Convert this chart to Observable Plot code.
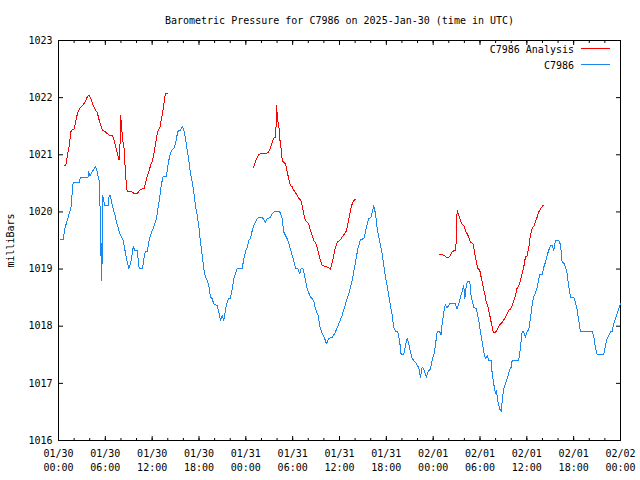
<!DOCTYPE html>
<html>
<head>
<meta charset="utf-8">
<script src="https://cdn.jsdelivr.net/npm/d3@7"></script>
<script src="https://cdn.jsdelivr.net/npm/@observablehq/plot@0.6"></script>
<style>
  body { margin: 0; background: #fff; }
  #wrap { position: relative; width: 640px; height: 480px; font-family: "DejaVu Sans Mono", monospace; }
  .lg-text { position: absolute; left: 0; width: 574px; text-align: right; font-size: 10px; line-height: 12px; color: #000; }
  .lg-line { position: absolute; left: 581px; width: 29px; height: 0; }
</style>
</head>
<body>
<div id="wrap"></div>
<script>
const title = "Barometric Pressure for C7986 on 2025-Jan-30 (time in UTC)";
const yLabel = "milliBars";
const startTime = "2025-01-30T00:00:00Z";
const seriesNames = ["C7986 Analysis", "C7986"];
const seriesColors = ["#ff0000", "#1a86f0"];

const xTickHours = [0, 6, 12, 18, 24, 30, 36, 42, 48, 54, 60, 66, 72];
const xTickLabels = ["01/30\n00:00", "01/30\n06:00", "01/30\n12:00", "01/30\n18:00",
  "01/31\n00:00", "01/31\n06:00", "01/31\n12:00", "01/31\n18:00",
  "02/01\n00:00", "02/01\n06:00", "02/01\n12:00", "02/01\n18:00", "02/02\n00:00"];
const xMinorHours = [0,2,4,6,8,10,12,14,16,18,20,22,24,26,28,30,32,34,36,38,40,42,44,46,48,50,52,54,56,58,60,62,64,66,68,70,72];
const yTicks = [1016, 1017, 1018, 1019, 1020, 1021, 1022, 1023];

// Observed station pressure: [hours since start, mb]
const stationReadings = [
  [0.26,1019.52],[0.60,1019.52],[0.81,1019.71],[1.24,1019.91],[1.58,1020.06],[1.88,1020.52],[2.65,1020.52],[2.82,1020.61],[3.80,1020.61],[3.84,1020.70],
  [4.01,1020.63],[4.23,1020.68],[4.52,1020.75],[4.74,1020.80],[4.87,1020.75],[5.09,1020.61],[5.29,1020.52],[5.32,1020.08],[5.42,1019.24],[5.48,1019.45],
  [5.55,1018.80],[5.61,1019.50],[5.67,1020.29],[5.80,1020.20],[5.93,1020.11],[6.37,1020.11],[6.49,1020.29],[6.66,1020.29],[6.79,1020.18],[7.01,1020.05],
  [7.21,1019.96],[7.43,1019.82],[7.65,1019.73],[7.85,1019.62],[8.07,1019.56],[8.29,1019.50],[8.49,1019.35],[8.71,1019.18],[9.01,1019.01],[9.22,1019.09],
  [9.44,1019.27],[9.57,1019.39],[9.77,1019.33],[10.08,1019.33],[10.34,1019.01],[10.76,1019.01],[10.93,1019.18],[11.14,1019.31],[11.36,1019.31],[11.57,1019.47],
  [11.78,1019.59],[12.13,1019.71],[12.34,1019.79],[12.55,1019.88],[12.77,1020.08],[12.98,1020.26],[13.19,1020.49],[13.41,1020.62],[13.83,1020.62],[14.05,1020.84],
  [14.26,1020.99],[14.48,1021.08],[14.77,1021.11],[15.03,1021.22],[15.28,1021.41],[15.63,1021.43],[15.85,1021.50],[16.05,1021.43],[16.27,1021.28],[16.49,1021.08],
  [16.69,1020.90],[16.91,1020.67],[17.13,1020.52],[17.33,1020.35],[17.55,1020.11],[17.77,1019.94],[17.97,1019.76],[18.19,1019.47],[18.41,1019.24],[18.61,1019.01],
  [18.83,1018.86],[19.05,1018.80],[19.25,1018.71],[19.47,1018.51],[19.69,1018.48],[19.89,1018.39],[20.33,1018.36],[20.53,1018.25],[20.75,1018.10],[20.97,1018.19],
  [21.17,1018.10],[21.30,1018.20],[21.52,1018.39],[21.82,1018.49],[22.03,1018.49],[22.25,1018.65],[22.46,1018.83],[22.89,1019.01],[23.53,1019.01],[23.74,1019.18],
  [23.95,1019.30],[24.17,1019.38],[24.38,1019.50],[24.60,1019.53],[24.81,1019.67],[25.02,1019.76],[25.24,1019.82],[25.45,1019.88],[25.66,1019.91],[26.09,1019.91],
  [26.52,1019.82],[26.73,1019.88],[27.16,1019.91],[27.38,1019.97],[27.58,1020.00],[28.35,1020.00],[28.66,1019.88],[28.86,1019.65],[29.30,1019.53],[29.59,1019.41],
  [29.81,1019.30],[30.14,1019.15],[30.36,1019.01],[30.65,1019.01],[30.91,1018.92],[31.09,1019.01],[31.35,1019.00],[31.55,1018.86],[31.86,1018.65],[32.28,1018.51],
  [32.70,1018.45],[32.92,1018.30],[33.27,1018.19],[33.47,1018.01],[33.69,1017.90],[33.91,1017.84],[34.07,1017.80],[34.33,1017.69],[34.63,1017.79],[35.06,1017.80],
  [35.48,1017.90],[35.91,1018.04],[36.34,1018.19],[36.77,1018.39],[37.19,1018.57],[37.62,1018.80],[38.05,1019.12],[38.34,1019.35],[38.69,1019.52],[39.11,1019.53],
  [39.33,1019.65],[39.54,1019.79],[39.75,1019.88],[40.06,1019.91],[40.39,1020.11],[40.61,1019.97],[40.83,1019.71],[41.03,1019.56],[41.25,1019.41],[41.47,1019.27],
  [41.67,1019.06],[41.89,1018.86],[42.11,1018.71],[42.31,1018.54],[42.53,1018.36],[42.75,1018.19],[42.95,1017.98],[43.17,1017.91],[43.46,1017.91],[43.72,1017.72],
  [43.90,1017.50],[44.23,1017.50],[44.45,1017.66],[44.67,1017.79],[44.87,1017.69],[45.09,1017.55],[45.31,1017.43],[45.73,1017.37],[45.95,1017.31],[46.15,1017.28],
  [46.37,1017.11],[46.59,1017.28],[46.80,1017.25],[47.14,1017.11],[47.36,1017.21],[47.65,1017.25],[47.87,1017.40],[48.17,1017.55],[48.51,1017.90],[48.84,1017.90],
  [49.02,1017.85],[49.15,1018.04],[49.36,1018.25],[49.57,1018.38],[49.79,1018.32],[50.12,1018.39],[50.86,1018.39],[51.07,1018.30],[51.28,1018.39],[51.50,1018.51],
  [51.71,1018.60],[51.92,1018.71],[52.05,1018.48],[52.27,1018.74],[52.43,1018.79],[52.69,1018.79],[52.87,1018.51],[53.20,1018.33],[53.55,1018.30],[53.84,1018.10],
  [54.06,1017.90],[54.28,1017.72],[54.48,1017.55],[54.70,1017.43],[54.92,1017.49],[55.12,1017.40],[55.43,1017.40],[55.56,1017.17],[55.76,1016.99],[55.98,1016.82],
  [56.11,1016.87],[56.27,1016.70],[56.53,1016.55],[56.75,1016.51],[56.84,1016.70],[57.04,1016.90],[57.26,1016.99],[57.55,1017.11],[57.77,1017.23],[57.99,1017.28],
  [58.12,1017.40],[58.96,1017.40],[59.18,1017.63],[59.40,1017.90],[59.60,1017.90],[59.82,1017.81],[60.04,1017.90],[60.25,1017.95],[60.46,1018.13],[60.68,1018.38],
  [60.89,1018.52],[61.10,1018.57],[61.32,1018.68],[61.65,1018.90],[61.96,1018.90],[62.17,1019.03],[62.38,1019.12],[62.60,1019.24],[62.81,1019.33],[63.03,1019.41],
  [63.24,1019.41],[63.45,1019.33],[63.67,1019.50],[64.09,1019.50],[64.31,1019.43],[64.53,1019.11],[64.73,1019.11],[64.95,1019.03],[65.17,1018.92],[65.37,1018.69],
  [65.59,1018.51],[66.01,1018.51],[66.23,1018.42],[66.45,1018.28],[66.65,1018.10],[66.87,1017.91],[68.37,1017.91],[68.58,1017.81],[68.79,1017.63],[69.01,1017.51],
  [69.86,1017.51],[70.07,1017.66],[70.29,1017.78],[70.49,1017.84],[70.71,1017.90],[70.93,1017.90],[71.13,1018.04],[71.35,1018.13],[71.57,1018.22],[71.77,1018.30],
  [71.99,1018.40]
];

// Analysis pressure, three separate runs: [hours since start, mb]
const analysisRun1 = [
  [0.68,1020.82],[0.94,1020.82],[1.15,1020.99],[1.37,1021.16],[1.58,1021.40],[1.79,1021.45],[2.01,1021.45],[2.22,1021.60],[2.43,1021.72],[2.73,1021.82],
  [3.07,1021.86],[3.37,1021.92],[3.72,1022.02],[3.93,1022.04],[4.14,1021.98],[4.45,1021.86],[4.74,1021.78],[4.96,1021.75],[5.16,1021.63],[5.42,1021.51],
  [5.64,1021.43],[5.93,1021.41],[6.24,1021.37],[6.57,1021.34],[6.92,1021.33],[7.14,1021.25],[7.34,1021.13],[7.56,1021.02],[7.72,1020.92],[7.85,1020.92],
  [7.94,1021.69],[8.07,1021.54],[8.20,1021.28],[8.42,1021.10],[8.58,1020.67],[8.71,1020.46],[8.80,1020.36],[9.35,1020.35],[9.77,1020.32],[10.08,1020.32],
  [10.41,1020.38],[10.76,1020.41],[10.98,1020.41],[11.18,1020.52],[11.40,1020.64],[11.62,1020.73],[11.82,1020.82],[12.04,1020.90],[12.26,1021.05],[12.46,1021.22],
  [12.68,1021.40],[12.98,1021.47],[13.19,1021.63],[13.41,1021.80],[13.62,1022.01],[13.75,1022.08],[14.00,1022.08]
];
const analysisRun2 = [
  [24.94,1020.77],[25.11,1020.82],[25.36,1020.93],[25.66,1021.00],[25.88,1021.02],[26.73,1021.03],[26.94,1021.05],[27.16,1021.13],[27.38,1021.22],[27.58,1021.29],
  [27.84,1021.31],[27.93,1021.86],[28.09,1021.60],[28.27,1021.45],[28.35,1021.28],[28.53,1021.10],[28.66,1020.90],[28.86,1020.87],[29.08,1020.84],[29.30,1020.70],
  [29.50,1020.58],[29.72,1020.46],[29.93,1020.44],[30.14,1020.38],[30.36,1020.34],[30.58,1020.29],[30.78,1020.23],[31.00,1020.22],[31.22,1020.11],[31.42,1019.97],
  [31.64,1019.85],[31.86,1019.82],[32.06,1019.79],[32.28,1019.67],[32.50,1019.59],[32.70,1019.50],[32.92,1019.47],[33.14,1019.38],[33.34,1019.27],[33.56,1019.15],
  [33.78,1019.06],[34.20,1019.05],[34.63,1019.02],[34.84,1018.99],[35.06,1019.12],[35.27,1019.24],[35.48,1019.38],[35.70,1019.47],[36.03,1019.50],[36.34,1019.56],
  [36.64,1019.62],[36.89,1019.67],[37.06,1019.79],[37.24,1019.91],[37.41,1020.03],[37.62,1020.14],[37.83,1020.20],[38.05,1020.22]
];
const analysisRun3 = [
  [48.84,1019.26],[49.15,1019.26],[49.36,1019.24],[49.70,1019.21],[50.00,1019.20],[50.21,1019.24],[50.43,1019.30],[50.73,1019.33],[50.90,1019.33],[50.99,1019.67],
  [51.07,1020.03],[51.28,1019.94],[51.50,1019.85],[51.71,1019.78],[51.92,1019.76],[52.14,1019.67],[52.35,1019.62],[52.56,1019.56],[52.78,1019.47],[53.12,1019.44],
  [53.29,1019.30],[53.51,1019.15],[53.71,1019.01],[53.97,1018.98],[54.19,1018.83],[54.40,1018.69],[54.61,1018.57],[54.79,1018.42],[54.99,1018.36],[55.21,1018.22],
  [55.43,1018.07],[55.64,1017.93],[55.76,1017.89],[55.98,1017.89],[56.20,1017.94],[56.40,1018.00],[56.62,1018.04],[56.84,1018.07],[57.04,1018.11],[57.26,1018.16],
  [57.48,1018.22],[57.68,1018.28],[57.90,1018.30],[58.12,1018.36],[58.32,1018.45],[58.54,1018.54],[58.76,1018.67],[58.96,1018.70],[59.18,1018.80],[59.40,1018.92],
  [59.60,1019.03],[59.82,1019.21],[60.04,1019.23],[60.25,1019.38],[60.46,1019.59],[60.68,1019.71],[60.89,1019.75],[61.10,1019.82],[61.32,1019.91],[61.53,1020.00],
  [61.75,1020.05],[62.04,1020.11],[62.17,1020.11]
];

const t0 = Date.parse(startTime);
const toDate = h => new Date(t0 + h * 3600e3);

const stationData = stationReadings.map(([h, v]) => ({t: toDate(h), v}));
const analysisData = [analysisRun1, analysisRun2, analysisRun3]
  .flatMap((run, k) => run.map(([h, v]) => ({t: toDate(h), v, run: k})));

const xTickDates = xTickHours.map(toDate);
const xMinorDates = xMinorHours.map(toDate);
const labelByTime = new Map(xTickDates.map((d, i) => [+d, xTickLabels[i]]));
const fmtX = d => labelByTime.get(+d) ?? "";
const fmtY = d => String(d);

const font = "DejaVu Sans Mono";

const chart = Plot.plot({
  width: 640,
  height: 480,
  marginLeft: 58,
  marginRight: 20,
  marginTop: 40,
  marginBottom: 40,
  style: {fontFamily: font, fontSize: "10px", background: "#fff", color: "#000"},
  x: {type: "utc", domain: [toDate(0), toDate(72)]},
  y: {domain: [1016, 1023]},
  marks: [
    // inward ticks, mirrored on all four sides
    Plot.axisX(xMinorDates, {anchor: "bottom", tickSize: -2, fill: "none", label: null}),
    Plot.axisX(xTickDates, {anchor: "bottom", tickSize: -4, fill: "none", label: null}),
    Plot.axisX(xMinorDates, {anchor: "top", tickSize: -2, fill: "none", label: null}),
    Plot.axisX(xTickDates, {anchor: "top", tickSize: -4, fill: "none", label: null}),
    Plot.axisY(yTicks, {anchor: "left", tickSize: -5, fill: "none", label: null}),
    Plot.axisY(yTicks, {anchor: "right", tickSize: -5, fill: "none", label: null}),
    // labels
    Plot.axisX(xTickDates, {anchor: "bottom", tickSize: 0, tickPadding: 7, tickFormat: fmtX, lineHeight: 1.4, fontSize: 10, label: null}),
    Plot.axisY(yTicks, {anchor: "left", tickSize: 0, tickPadding: 6, tickFormat: fmtY, fontSize: 10,
      label: yLabel, labelAnchor: "center", labelArrow: "none", labelOffset: 52}),
    Plot.frame({stroke: "#000", shapeRendering: "crispEdges"}),
    Plot.line(analysisData, {x: "t", y: "v", z: "run", stroke: seriesColors[0], strokeWidth: 1, curve: "linear", shapeRendering: "crispEdges"}),
    Plot.line(stationData, {x: "t", y: "v", stroke: seriesColors[1], strokeWidth: 1, curve: "linear", shapeRendering: "crispEdges"}),
    Plot.text([title], {text: d => d, frameAnchor: "top", dy: -20, fontSize: 10, lineAnchor: "middle"})
  ]
});

const wrap = document.getElementById("wrap");
wrap.appendChild(chart);

seriesNames.forEach((name, i) => {
  const t = document.createElement("div");
  t.className = "lg-text";
  t.style.top = (44 + i * 16) + "px";
  t.textContent = name;
  wrap.appendChild(t);
  const l = document.createElement("div");
  l.className = "lg-line";
  l.style.top = (48 + i * 16) + "px";
  l.style.borderTop = "1px solid " + seriesColors[i];
  wrap.appendChild(l);
});
</script>
</body>
</html>
